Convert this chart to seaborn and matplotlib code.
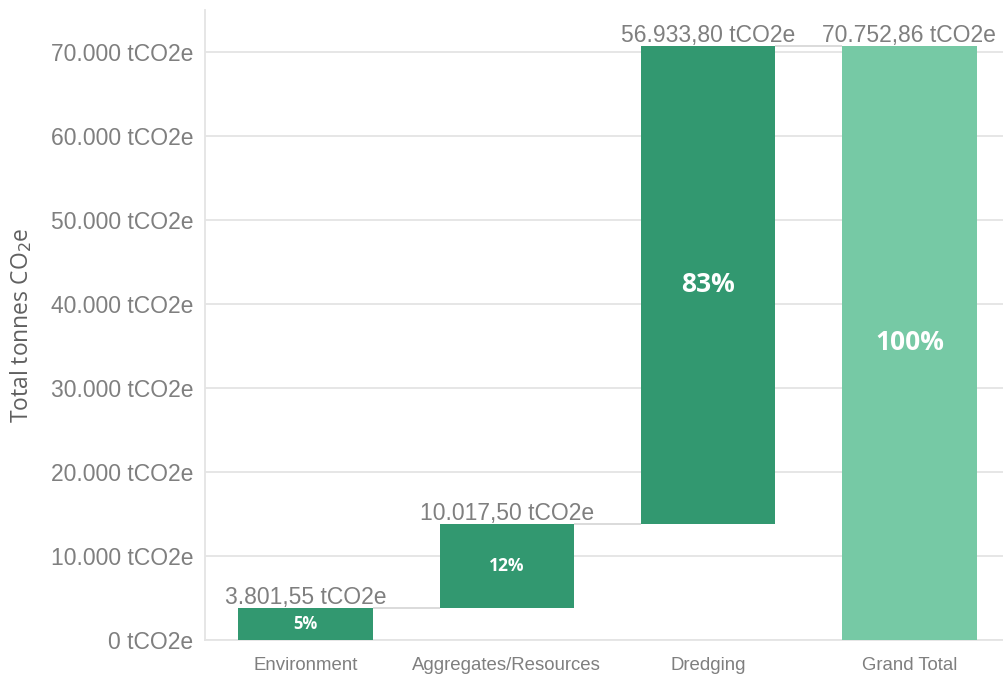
import numpy as np
import pandas as pd
import matplotlib
matplotlib.use("Agg")
import matplotlib.pyplot as plt
import seaborn as sns

# Emissions per activity (tCO2e) and the waterfall total
categories = ["Environment", "Aggregates/Resources", "Dredging", "Grand Total"]
steps = [3801.55, 10017.50, 56933.80]
total = 70752.86
value_labels = ["3.801,55 tCO2e", "10.017,50 tCO2e", "56.933,80 tCO2e", "70.752,86 tCO2e"]
share_labels = ["5%", "12%", "83%", "100%"]
share_sizes = [12, 12.5, 19, 19]
y_ticks = [0, 10000, 20000, 30000, 40000, 50000, 60000, 70000]
y_tick_labels = ["0 tCO2e", "10.000 tCO2e", "20.000 tCO2e", "30.000 tCO2e",
                 "40.000 tCO2e", "50.000 tCO2e", "60.000 tCO2e", "70.000 tCO2e"]

heights = steps + [total]
bases = list(np.concatenate([[0], np.cumsum(steps)[:-1]])) + [0]
df = pd.DataFrame({"category": categories, "height": heights, "base": bases})
df["top"] = df["base"] + df["height"]

dark_green = "#329870"
light_green = "#76C9A5"
grid_col = "#e4e4e4"
text_col = "#7f7f7f"

sns.set_theme(style="white")
plt.rcParams["font.family"] = ["Liberation Sans", "DejaVu Sans"]

fig = plt.figure(figsize=(10.04, 6.78), dpi=100)
ax = fig.add_axes([0.204, 0.056, 0.796, 0.929])

bar_w = 0.667
sns.barplot(data=df, x="category", y="height", bottom=df["base"].values,
            color=dark_green, width=bar_w, saturation=1, ax=ax, zorder=3,
            linewidth=0)
ax.patches[-1].set_facecolor(light_green)

# connector lines between consecutive bars
for i in range(len(df) - 1):
    y = df["top"].iloc[i]
    ax.plot([i + bar_w / 2, i + 1 - bar_w / 2], [y, y], color="#d4d4d4",
            lw=1.2, zorder=2, solid_capstyle="butt")

# value labels above each bar, share labels inside
for i, row in df.iterrows():
    ax.annotate(value_labels[i], (i, row["top"]), xytext=(0, -0.5),
                textcoords="offset points", ha="center", va="bottom",
                fontsize=16.5, color=text_col, zorder=4)
    ax.text(i, row["base"] + row["height"] / 2, share_labels[i],
            ha="center", va="center", color="white", fontweight="bold",
            fontsize=share_sizes[i], family=["Open Sans", "DejaVu Sans"], zorder=4)

ax.set_ylim(0, 75000)
ax.set_xlim(-0.5, 3.47)
ax.set_yticks(y_ticks)
ax.set_yticklabels(y_tick_labels)
ax.yaxis.grid(True, color=grid_col, lw=1.3, zorder=0)
ax.set_axisbelow(True)
ax.tick_params(axis="y", labelsize=16.5, labelcolor=text_col, length=0, pad=8.5)
ax.tick_params(axis="x", labelsize=13.4, labelcolor=text_col, length=0, pad=12)
ax.set_xlabel("")
ax.set_ylabel("Total tonnes CO$_2$e", fontsize=16.5, color="#606060",
              family=["Open Sans", "DejaVu Sans"], labelpad=12)

for side in ["top", "right"]:
    ax.spines[side].set_visible(False)
for side in ["left", "bottom"]:
    ax.spines[side].set_color(grid_col)
    ax.spines[side].set_linewidth(1.3)

fig.savefig("out.png", dpi=100)
